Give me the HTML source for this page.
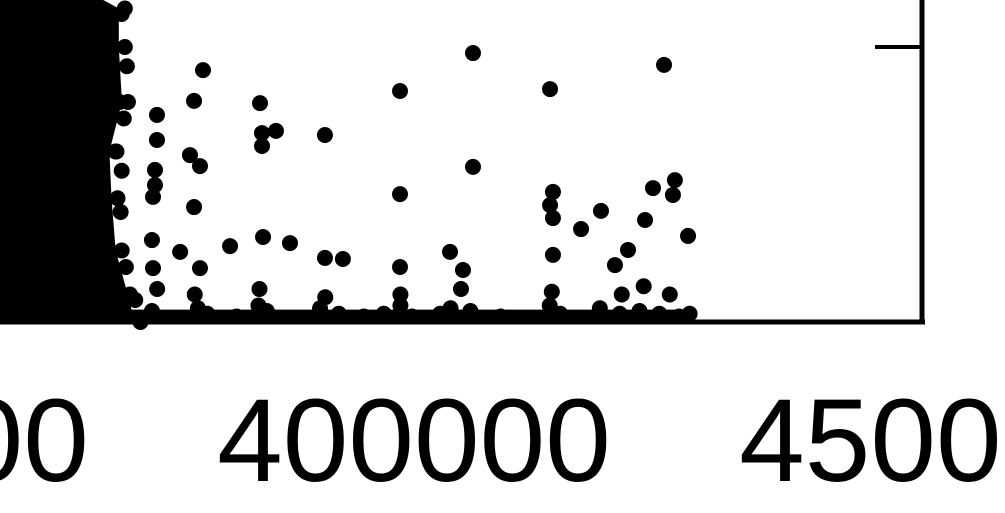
<!DOCTYPE html>
<html><head><meta charset="utf-8"><style>
html,body{margin:0;padding:0;background:#fff;width:1005px;height:513px;overflow:hidden}
svg{display:block}
text{font-family:"Liberation Sans",sans-serif}
</style></head><body>
<svg id="chart" width="1005" height="513" viewBox="0 0 1005 513"></svg>
<script>
// x values (thousands), y values (normalized)
const xTicks = [350, 400, 450];
const xTickLabels = ["350000", "400000", "450000"];
const yTicks = [1.0];
// dense cluster envelope (right edge x, at y level)
const blobY = [1.2, 1.14, 1.0, 0.8, 0.62, 0.45, 0.26, 0.08, 0.0];
const blobX = [369.4, 372.3, 372.3, 372.6, 371.4, 371.6, 372.0, 373.3, 373.8];
const ptX = [405.65,423.95,398.66,413.03,379.79,378.93,385.25,385.44,386.78,385.44,391.47,375.38,375.38,378.54,379.5,375.19,375.19,375.0,378.93,405.65,398.66,413.31,413.03,413.31,417.91,416.0,424.99,424.8,422.89,422.13,426.25,382.38,388.12,385.54,391.47,393.19,403.45,404.69,398.66,413.31,420.5,419.25,374.9,375.0,377.6,379.5,
 372.0,372.5,371.8,372.2,371.5,372.0,371.9,372.4,372.8,
 374.9,379.3,380.2,383.0,385.1,385.9,391.0,392.8,395.2,397.1,398.7,399.8,402.5,403.5,405.4,408.3,413.0,414.0,417.8,419.7,421.6,423.5,425.4,426.4,
 375.4,379.0,385.2,391.5,398.7,404.5,413.2,419.9,422.0,424.5];
const ptY = [0.978,0.935,0.84,0.847,0.916,0.804,0.796,0.687,0.695,0.64,0.68,0.753,0.662,0.607,0.567,0.553,0.498,0.455,0.418,0.564,0.465,0.473,0.425,0.378,0.404,0.338,0.516,0.462,0.487,0.371,0.313,0.276,0.287,0.309,0.233,0.229,0.255,0.189,0.2,0.244,0.262,0.207,0.298,0.196,0.255,0.196,
 1.12,0.93,0.8,0.74,0.62,0.55,0.4,0.2,0.1,
 0.04,0.05,0.03,0.02,0.06,0.04,0.05,0.03,0.02,0.03,0.06,0.02,0.03,0.05,0.04,0.02,0.06,0.03,0.05,0.03,0.04,0.03,0.02,0.03,
 0.12,0.1,0.12,0.09,0.1,0.12,0.11,0.1,0.13,0.1];

const NS = "http://www.w3.org/2000/svg";
const svg = document.getElementById("chart");
const X0 = 414, XPER = 522/50; // px per thousand
const xs = v => X0 + (v - 400) * XPER;
const ys = v => 322 - v * 275;
function mk(t, a){const e=document.createElementNS(NS,t);for(const k in a)e.setAttribute(k,a[k]);svg.appendChild(e);return e;}

// blob
let d = "M0," + ys(blobY[0]);
for (let i=0;i<blobY.length;i++) d += " L" + (xs(blobX[i]) - 6) + "," + ys(blobY[i]);
d += " L0," + ys(0) + " Z";
const blob = mk("path",{d:d,fill:"#000"});


for (let i=0;i<blobY.length;i++){
  const c = mk("circle",{cx:xs(blobX[i]),cy:ys(blobY[i]),r:8,fill:"#000"});
  
  
}
// bottom band of points
const band = mk("rect",{x:0,y:ys(0.045),width:xs(426.8),height:14,fill:"#000"});


for (let i=0;i<ptX.length;i++){
  const c = mk("circle",{cx:xs(ptX[i]),cy:ys(ptY[i]),r:8,fill:"#000"});
  
  
}
// axes
const xa = mk("line",{x1:0,y1:322,x2:925,y2:322,stroke:"#000","stroke-width":5});


const ra = mk("line",{x1:922,y1:0,x2:922,y2:324.5,stroke:"#000","stroke-width":5});


for (const t of yTicks){
  const l = mk("line",{x1:875,y1:ys(t),x2:922,y2:ys(t),stroke:"#000","stroke-width":4});
  
  
}
for (let i=0;i<xTicks.length;i++){
  const t = mk("text",{x:xs(xTicks[i]),y:481,"font-size":118,"text-anchor":"middle",fill:"#000"});
  t.textContent = xTickLabels[i];
  
  
}
</script>
</body></html>
